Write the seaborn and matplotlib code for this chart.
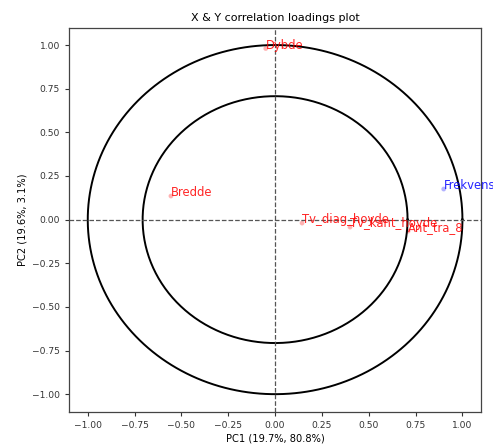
import matplotlib
matplotlib.use("Agg")
import matplotlib.pyplot as plt
import numpy as np
import pandas as pd
import seaborn as sns

# X loadings (red) and Y loadings (blue)
x_names = ["Dybde", "Bredde", "Tv_diag_hoyde", "Tv_kant_hoyde", "Ant_tra_8"]
x_pc1 = [-0.05, -0.556, 0.144, 0.40, 0.71]
x_pc2 = [0.98, 0.135, -0.02, -0.043, -0.066]
y_names = ["Frekvens"]
y_pc1 = [0.90]
y_pc2 = [0.175]

title = "X & Y correlation loadings plot"
xlabel = "PC1 (19.7%, 80.8%)"
ylabel = "PC2 (19.6%, 3.1%)"
ticks = [-1.00, -0.75, -0.50, -0.25, 0.00, 0.25, 0.50, 0.75, 1.00]

df = pd.DataFrame({
    "name": x_names + y_names,
    "pc1": x_pc1 + y_pc1,
    "pc2": x_pc2 + y_pc2,
    "block": ["X"] * len(x_names) + ["Y"] * len(y_names),
})
palette = {"X": "red", "Y": "blue"}

fig = plt.figure(figsize=(4.93, 4.45), dpi=100)
ax = fig.add_axes([0.140, 0.075, 0.836, 0.863])

sns.scatterplot(data=df, x="pc1", y="pc2", hue="block", palette=palette,
                s=12, alpha=0.3, ax=ax, legend=False)
for _, r in df.iterrows():
    ax.text(r.pc1, r.pc2, r["name"], color=palette[r.block], fontsize=8.4, alpha=0.85)

t = np.linspace(0, 2 * np.pi, 400)
for rad in [1.0, np.sqrt(0.5)]:
    ax.plot(rad * np.cos(t), rad * np.sin(t), color="black", lw=1.4)
ax.axhline(0, color="#555555", ls="--", lw=0.9)
ax.axvline(0, color="#555555", ls="--", lw=0.9)

ax.set_xlim(-1.1, 1.1)
ax.set_ylim(-1.1, 1.1)
ax.set_xticks(ticks)
ax.set_yticks(ticks)
ax.tick_params(labelsize=6.6, length=3, width=0.8, colors="#333333")
for sp in ax.spines.values():
    sp.set_color("#444444")
    sp.set_linewidth(0.9)
ax.set_title(title, fontsize=8.0, pad=5)
ax.set_xlabel(xlabel, fontsize=7.1, labelpad=3)
ax.set_ylabel(ylabel, fontsize=7.1, labelpad=3)

fig.savefig("out.png", dpi=100)
